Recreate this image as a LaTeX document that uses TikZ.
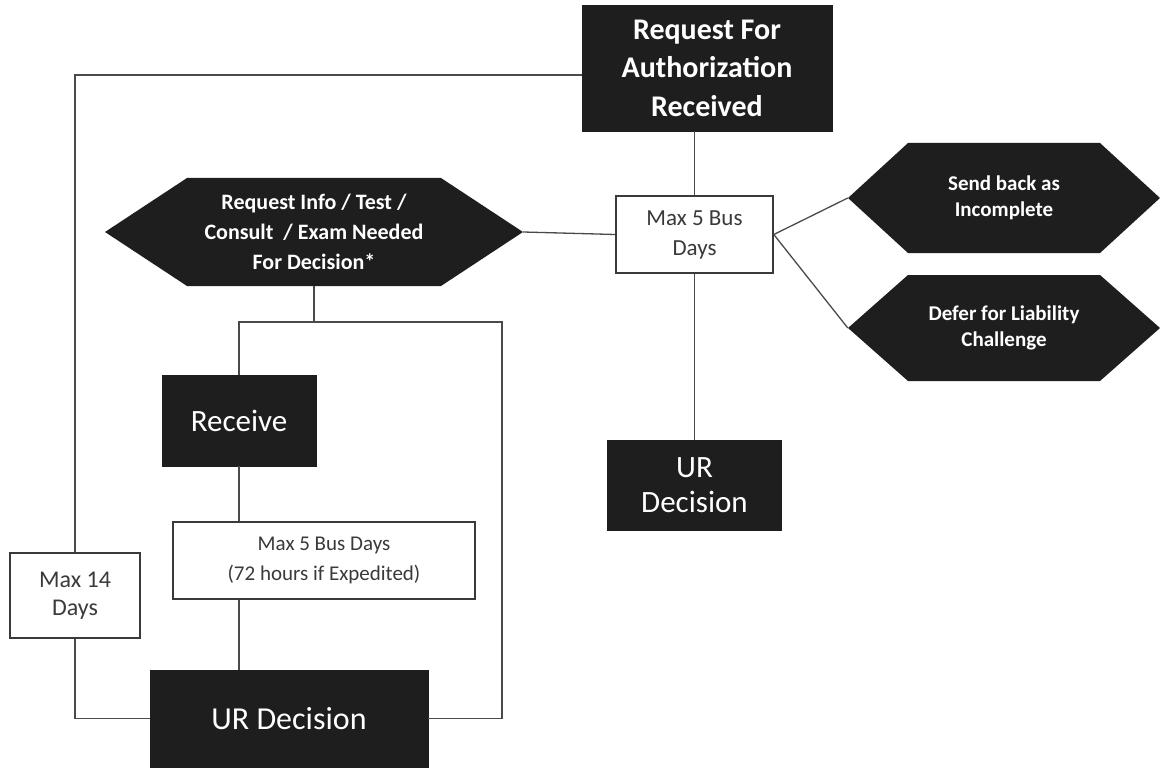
\documentclass[tikz,border=0pt]{standalone}
\usepackage{fontspec}
\setmainfont{Carlito}
\definecolor{boxdark}{HTML}{1E1E1E}
\definecolor{linegray}{HTML}{4A4A4A}
\definecolor{textgray}{HTML}{3A3A3A}
\begin{document}
\begin{tikzpicture}[x=1pt,y=-1pt,
  darkbox/.style={rectangle, fill=boxdark, draw=boxdark, text=white,
    inner sep=0pt, align=center, font=\fontsize{31}{37}\selectfont},
  timebox/.style={rectangle, fill=white, draw=textgray, line width=1.6pt,
    text=textgray, inner sep=0pt, align=center},
  hexbox/.style={rectangle, inner sep=0pt, align=center, text=white,
    font=\bfseries\fontsize{21}{26}\selectfont,
    path picture={\fill[boxdark]
      (path picture bounding box.west)
      -- ([xshift=#1]path picture bounding box.north west)
      -- ([xshift=-#1]path picture bounding box.north east)
      -- (path picture bounding box.east)
      -- ([xshift=-#1]path picture bounding box.south east)
      -- ([xshift=#1]path picture bounding box.south west) -- cycle;}},
  conn/.style={draw=linegray, line width=1.3pt}]
\useasboundingbox (0,0) rectangle (1167,770);

% main request and first review window
\node[darkbox, minimum width=250pt, minimum height=126pt,
  font=\bfseries\fontsize{30}{38.5}\selectfont] (rfa) at (707,68)
  {Request For\\Authorization\\Received};
\node[timebox, minimum width=157pt, minimum height=77pt,
  font=\fontsize{23}{30}\selectfont] (m5a) at (694.5,234.5)
  {Max 5 Bus\\Days};
\node[darkbox, minimum width=174pt, minimum height=90pt,
  font=\fontsize{31}{35}\selectfont] (urr) at (694.5,485) {UR\\Decision};

% outcomes to the right
\node[hexbox=60pt, minimum width=312pt, minimum height=110pt] (sb)
  at (1004,198) {Send back as\\Incomplete};
\node[hexbox=60pt, minimum width=312pt, minimum height=106pt] (df)
  at (1004,328) {Defer for Liability\\Challenge};

% additional information branch
\node[hexbox=82pt, minimum width=418pt, minimum height=108pt,
  font=\bfseries\fontsize{22}{30}\selectfont] (ri) at (314,232)
  {Request Info / Test /\\Consult \ / Exam Needed\\For Decision*};
\node[darkbox, minimum width=154pt, minimum height=91pt] (rcv)
  at (239,420.5) {Receive};
\node[timebox, minimum width=302pt, minimum height=77pt,
  font=\fontsize{21}{30}\selectfont] (m5b) at (324,560.5)
  {Max 5 Bus Days\\(72 hours if Expedited)};
\node[timebox, minimum width=130pt, minimum height=85pt,
  font=\fontsize{24}{28}\selectfont] (m14) at (75,595.5)
  {Max 14\\Days};
\node[darkbox, minimum width=278pt, minimum height=97pt,
  font=\fontsize{32}{38}\selectfont] (urb) at (289,718.5) {UR Decision};

\coordinate (jn) at (314,322);
\coordinate (rt) at (502,322);

% connectors
\draw[conn] (m5a.north |- rfa.south) -- (m5a.north);
\draw[conn] (m5a.west) -- (ri.east);
\draw[conn] (m5a.east) -- (sb.west);
\draw[conn] (m5a.east) -- (df.west);
\draw[conn] (m5a.south) -- (urr.north);
\draw[conn] ([yshift=-7pt]rfa.west) -| (m14.north);
\draw[conn] (m14.south) |- (urb.west);
\draw[conn] (ri.south) -- (jn);
\draw[conn] (rcv.north) |- (jn);
\draw[conn] (jn) -- (rt) |- (urb.east);
\draw[conn] (rcv.south) -- (rcv.south |- m5b.north);
\draw[conn] (rcv.south |- m5b.south) -- (rcv.south |- urb.north);
\end{tikzpicture}
\end{document}
